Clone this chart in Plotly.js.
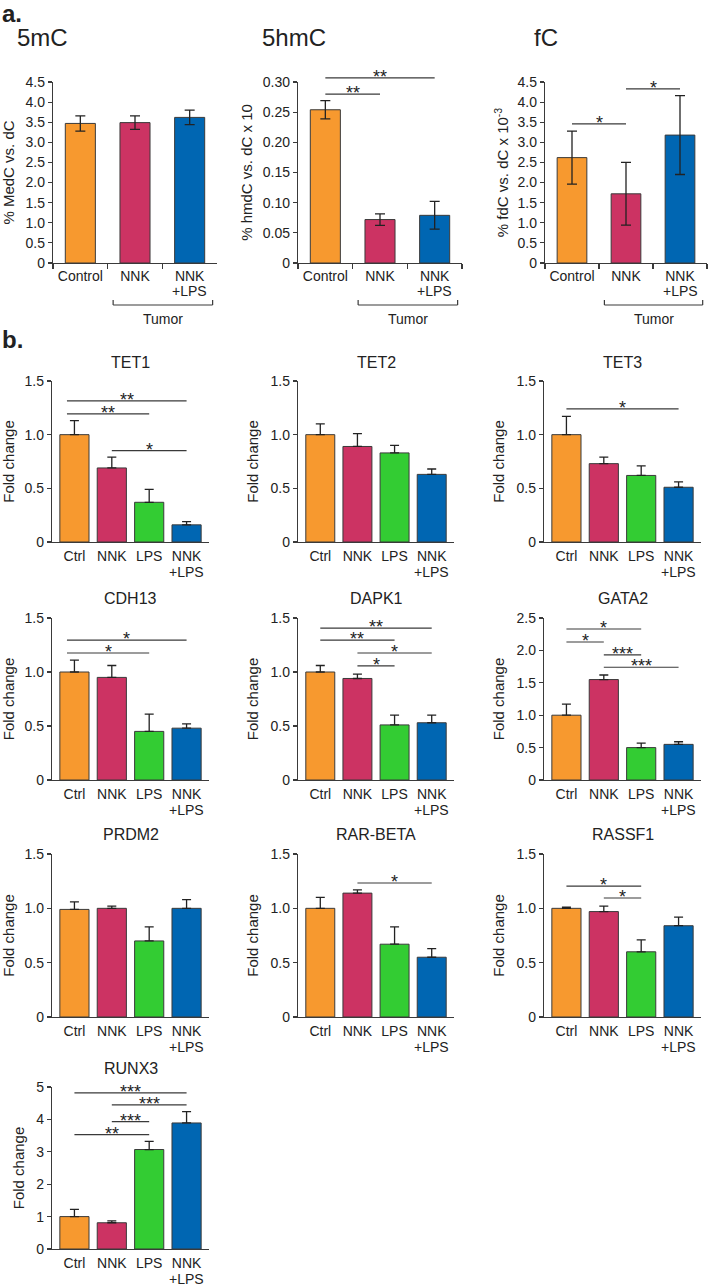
<!DOCTYPE html>
<html><head><meta charset="utf-8">
<script src="https://cdn.plot.ly/plotly-3.0.1.min.js"></script>
<style>html,body{margin:0;padding:0;background:#fff}</style>
</head><body><div id="chart" style="width:708px;height:1286px"></div>
<script>
// ---------- DATA ----------
const groupsA = ['Control', 'NNK', 'NNK+LPS'];
const tickA_line1 = ['Control', 'NNK', 'NNK'];
const tickA_line2 = ['', '', '+LPS'];
const groupsB = ['Ctrl', 'NNK', 'LPS', 'NNK+LPS'];
const tickB_line1 = ['Ctrl', 'NNK', 'LPS', 'NNK'];
const tickB_line2 = ['', '', '', '+LPS'];
const colorsA = ['#F7992F', '#CC3363', '#0066B2'];
const colorsB = ['#F7992F', '#CC3363', '#33CC33', '#0066B2'];

// panel a (mean, sem)
const mC_mean = [3.47, 3.49, 3.62];
const mC_sem = [0.19, 0.17, 0.18];
const hmC_mean = [0.254, 0.072, 0.079];
const hmC_sem = [0.015, 0.0095, 0.023];
const fC_mean = [2.62, 1.72, 3.18];
const fC_sem = [0.66, 0.78, 0.98];

// significance: [fromGroup, toGroup, yValue, label]
const mC_sig = [];
const hmC_sig = [[0, 1, 0.280, '**'], [0, 2, 0.307, '**']];
const fC_sig = [[0, 1, 3.46, '*'], [1, 2, 4.33, '*']];

// panel b (mean, upper sem)
const TET1_mean = [1.00, 0.69, 0.37, 0.16];
const TET1_sem = [0.13, 0.10, 0.12, 0.03];
const TET2_mean = [1.00, 0.89, 0.83, 0.63];
const TET2_sem = [0.10, 0.12, 0.07, 0.05];
const TET3_mean = [1.00, 0.73, 0.62, 0.51];
const TET3_sem = [0.17, 0.06, 0.09, 0.05];
const CDH13_mean = [1.00, 0.95, 0.45, 0.48];
const CDH13_sem = [0.11, 0.11, 0.16, 0.04];
const DAPK1_mean = [1.00, 0.94, 0.51, 0.53];
const DAPK1_sem = [0.06, 0.04, 0.09, 0.07];
const GATA2_mean = [1.00, 1.55, 0.50, 0.55];
const GATA2_sem = [0.17, 0.07, 0.07, 0.04];
const PRDM2_mean = [0.99, 1.00, 0.70, 1.00];
const PRDM2_sem = [0.07, 0.02, 0.13, 0.08];
const RARB_mean = [1.00, 1.14, 0.67, 0.55];
const RARB_sem = [0.10, 0.03, 0.16, 0.08];
const RASSF1_mean = [1.00, 0.97, 0.60, 0.84];
const RASSF1_sem = [0.01, 0.05, 0.11, 0.08];
const RUNX3_mean = [1.00, 0.81, 3.07, 3.89];
const RUNX3_sem = [0.22, 0.06, 0.25, 0.35];

const TET1_sig = [[-0.2, 3, 1.315, '**'], [-0.2, 2, 1.194, '**'], [1, 3, 0.852, '*']];
const TET2_sig = [];
const TET3_sig = [[0, 3, 1.24, '*']];
const CDH13_sig = [[-0.2, 3, 1.296, '*'], [-0.2, 2, 1.176, '*']];
const DAPK1_sig = [[0, 3, 1.407, '**'], [0, 2, 1.296, '**'], [1, 3, 1.176, '*'], [1, 2, 1.056, '*']];
const GATA2_sig = [[0, 2, 2.33, '*'], [0, 1, 2.13, '*'], [1, 2, 1.93, '***'], [1, 3, 1.74, '***']];
const PRDM2_sig = [];
const RARB_sig = [[1, 3, 1.233, '*']];
const RASSF1_sig = [[0, 2, 1.205, '*'], [1, 2, 1.095, '*']];
const RUNX3_sig = [[0, 3, 4.82, '***'], [1, 3, 4.45, '***'], [1, 2, 3.93, '***'], [0, 2, 3.53, '**']];

// tick labels
const ticks45 = [0, 0.5, 1, 1.5, 2, 2.5, 3, 3.5, 4, 4.5];
const ticks45_text = ['0', '0.5', '1.0', '1.5', '2.0', '2.5', '3.0', '3.5', '4.0', '4.5'];
const ticks03 = [0, 0.05, 0.10, 0.15, 0.20, 0.25, 0.30];
const ticks03_text = ['0', '0.05', '0.10', '0.15', '0.20', '0.25', '0.30'];
const ticks15 = [0, 0.5, 1, 1.5];
const ticks15_text = ['0', '0.5', '1.0', '1.5'];
const ticks25 = [0, 0.5, 1, 1.5, 2, 2.5];
const ticks25_text = ['0', '0.5', '1.0', '1.5', '2.0', '2.5'];
const ticks5 = [0, 1, 2, 3, 4, 5];
const ticks5_text = ['0', '1', '2', '3', '4', '5'];

// ---------- LAYOUT HELPERS ----------
const W = 708, H = 1286;
const FONT = '"Liberation Sans", Arial, Helvetica, sans-serif';
const TXT = '#222';
const LINE = '#3a3a3a';
const px = v => v / W;
const py = v => 1 - v / H;

const panelsA = [
  {title: '5mC', titleX: 15, ytitle: '% MedC vs. dC', mean: mC_mean, sem: mC_sem, ymax: 4.5, tv: ticks45, tt: ticks45_text, sig: mC_sig, box: [53, 217], standoff: 11},
  {title: '5hmC', titleX: 260, ytitle: '% hmdC vs. dC x 10', mean: hmC_mean, sem: hmC_sem, ymax: 0.30, tv: ticks03, tt: ticks03_text, sig: hmC_sig, box: [298, 462], standoff: 6},
  {title: 'fC', titleX: 532, ytitle: '% fdC vs. dC x 10<sup>-3</sup>', mean: fC_mean, sem: fC_sem, ymax: 4.5, tv: ticks45, tt: ticks45_text, sig: fC_sig, box: [545, 707], standoff: 5}
];
const aTop = 82, aBot = 263;

const panelsB = [
  {title: 'TET1', mean: TET1_mean, sem: TET1_sem, sig: TET1_sig, ymax: 1.5, tv: ticks15, tt: ticks15_text},
  {title: 'TET2', mean: TET2_mean, sem: TET2_sem, sig: TET2_sig, ymax: 1.5, tv: ticks15, tt: ticks15_text},
  {title: 'TET3', mean: TET3_mean, sem: TET3_sem, sig: TET3_sig, ymax: 1.5, tv: ticks15, tt: ticks15_text},
  {title: 'CDH13', mean: CDH13_mean, sem: CDH13_sem, sig: CDH13_sig, ymax: 1.5, tv: ticks15, tt: ticks15_text},
  {title: 'DAPK1', mean: DAPK1_mean, sem: DAPK1_sem, sig: DAPK1_sig, ymax: 1.5, tv: ticks15, tt: ticks15_text},
  {title: 'GATA2', mean: GATA2_mean, sem: GATA2_sem, sig: GATA2_sig, ymax: 2.5, tv: ticks25, tt: ticks25_text},
  {title: 'PRDM2', mean: PRDM2_mean, sem: PRDM2_sem, sig: PRDM2_sig, ymax: 1.5, tv: ticks15, tt: ticks15_text},
  {title: 'RAR-BETA', mean: RARB_mean, sem: RARB_sem, sig: RARB_sig, ymax: 1.5, tv: ticks15, tt: ticks15_text},
  {title: 'RASSF1', mean: RASSF1_mean, sem: RASSF1_sem, sig: RASSF1_sig, ymax: 1.5, tv: ticks15, tt: ticks15_text},
  {title: 'RUNX3', mean: RUNX3_mean, sem: RUNX3_sem, sig: RUNX3_sig, ymax: 5, tv: ticks5, tt: ticks5_text}
];
const bCols = [[52, 209], [298, 454], [544, 701]];
const bRows = [[381, 542], [618, 780], [854, 1017], [1087, 1249]];

const traces = [];
const layout = {
  width: W, height: H,
  margin: {l: 0, r: 0, t: 0, b: 0},
  paper_bgcolor: '#fff', plot_bgcolor: '#fff',
  showlegend: false,
  font: {family: FONT, size: 14, color: TXT},
  shapes: [], annotations: []
};

function addAxes(i, xbox, ybox, cats, line1, xr, ymax, tv, tt, ytitle, standoff, isA) {
  const sfx = (i === 1 ? '' : i);
  const xid = 'x' + sfx, yid = 'y' + sfx;
  layout['xaxis' + sfx] = {
    domain: [px(xbox[0]), px(xbox[1])], anchor: yid,
    type: 'category', range: xr, fixedrange: true,
    showline: true, linecolor: LINE, linewidth: 1.2, showgrid: false, zeroline: false,
    ticks: 'outside', ticklen: isA ? 5 : 1, tickwidth: 1.2,
    tickcolor: isA ? LINE : 'rgba(0,0,0,0)',
    tickson: isA ? 'boundaries' : 'labels',
    tickmode: 'array', tickvals: cats, ticktext: line1, tickangle: 0,
    tickfont: {family: FONT, size: 14, color: TXT},
    automargin: false
  };
  layout['yaxis' + sfx] = {
    domain: [py(ybox[1]), py(ybox[0])], anchor: xid,
    range: [0, ymax], fixedrange: true,
    showline: true, linecolor: LINE, linewidth: 1.2, showgrid: false, zeroline: false,
    ticks: 'outside', ticklen: 4, tickwidth: 1.2, tickcolor: LINE,
    tickmode: 'array', tickvals: tv, ticktext: tt,
    tickfont: {family: FONT, size: 14, color: TXT},
    title: {text: ytitle, font: {family: FONT, size: 15, color: TXT}, standoff: standoff},
    automargin: false
  };
  return {xid, yid, sfx};
}

function addLine2(sfx, cats, line2, shift) {
  cats.forEach((c, j) => {
    if (!line2[j]) return;
    layout.annotations.push({xref: 'x' + sfx, yref: 'y' + sfx + ' domain', x: c, y: 0,
      xanchor: 'center', yanchor: 'middle', yshift: shift, text: line2[j], showarrow: false,
      font: {family: FONT, size: 14, color: TXT}});
  });
}

function addSig(sfx, sig, xr, ymax) {
  const toDom = v => (v - xr[0]) / (xr[1] - xr[0]);
  sig.forEach(s => {
    const x0 = toDom(s[0]), x1 = toDom(s[1]), yd = s[2] / ymax;
    layout.shapes.push({type: 'line', xref: 'x' + sfx + ' domain', yref: 'y' + sfx + ' domain',
      x0: x0, x1: x1, y0: yd, y1: yd, line: {color: LINE, width: 1.2}});
    layout.annotations.push({xref: 'x' + sfx + ' domain', yref: 'y' + sfx + ' domain',
      x: (x0 + x1) / 2, y: yd, xanchor: 'center', yanchor: 'bottom', yshift: -11,
      text: s[3], showarrow: false, font: {family: FONT, size: 18, color: TXT}});
  });
}

let idx = 1;
// Panel a
const xrA = [-0.5, 2.5];
panelsA.forEach(p => {
  const ids = addAxes(idx, p.box, [aTop, aBot], groupsA, tickA_line1, xrA, p.ymax, p.tv, p.tt, p.ytitle, p.standoff, true);
  traces.push({
    type: 'bar', x: groupsA, y: p.mean, xaxis: ids.xid, yaxis: ids.yid, width: 0.55,
    marker: {color: colorsA, line: {color: LINE, width: 1}},
    error_y: {type: 'data', array: p.sem, visible: true, color: '#222', thickness: 1.3, width: 5},
    hoverinfo: 'none'
  });
  addLine2(ids.sfx, groupsA, tickA_line2, -28);
  addSig(ids.sfx, p.sig, xrA, p.ymax);
  layout.annotations.push({xref: 'paper', yref: 'paper', x: px(p.titleX), y: py(38), xanchor: 'left', yanchor: 'middle',
    text: p.title, showarrow: false, font: {family: FONT, size: 24, color: TXT}});
  // Tumor bracket under NNK and NNK+LPS
  const toDom = v => (v - xrA[0]) / (xrA[1] - xrA[0]);
  const bx0 = toDom(0.6), bx1 = toDom(2.42);
  const xr = 'x' + ids.sfx + ' domain';
  layout.shapes.push({type: 'line', xref: xr, yref: 'paper', x0: bx0, x1: bx1, y0: py(305), y1: py(305), line: {color: LINE, width: 1.2}});
  layout.shapes.push({type: 'line', xref: xr, yref: 'paper', x0: bx0, x1: bx0, y0: py(305), y1: py(300), line: {color: LINE, width: 1.2}});
  layout.shapes.push({type: 'line', xref: xr, yref: 'paper', x0: bx1, x1: bx1, y0: py(305), y1: py(300), line: {color: LINE, width: 1.2}});
  layout.annotations.push({xref: xr, yref: 'paper', x: (bx0 + bx1) / 2, y: py(319), xanchor: 'center', yanchor: 'middle',
    text: 'Tumor', showarrow: false, font: {family: FONT, size: 14, color: TXT}});
  idx++;
});

// Panel b
const xrB = [-0.6, 3.6];
panelsB.forEach((p, k) => {
  const col = bCols[k % 3], row = bRows[Math.floor(k / 3)];
  const ids = addAxes(idx, col, row, groupsB, tickB_line1, xrB, p.ymax, p.tv, p.tt, 'Fold change', 8, false);
  const zeros = p.mean.map(() => 0);
  traces.push({
    type: 'bar', x: groupsB, y: p.mean, xaxis: ids.xid, yaxis: ids.yid, width: 0.78,
    marker: {color: colorsB, line: {color: LINE, width: 1}},
    error_y: {type: 'data', symmetric: false, array: p.sem, arrayminus: zeros, visible: true, color: '#222', thickness: 1.3, width: 4.5},
    hoverinfo: 'none'
  });
  addLine2(ids.sfx, groupsB, tickB_line2, -30);
  addSig(ids.sfx, p.sig, xrB, p.ymax);
  layout.annotations.push({xref: 'x' + ids.sfx + ' domain', yref: 'y' + ids.sfx + ' domain', x: 0.5, y: 1, xanchor: 'center', yanchor: 'middle', yshift: 19,
    text: p.title, showarrow: false, font: {family: FONT, size: 16, color: TXT}});
  idx++;
});

// panel letters
layout.annotations.push({xref: 'paper', yref: 'paper', x: 0, y: py(13), xanchor: 'left', yanchor: 'middle',
  text: '<b>a.</b>', showarrow: false, font: {family: FONT, size: 24, color: TXT}});
layout.annotations.push({xref: 'paper', yref: 'paper', x: 0, y: py(340), xanchor: 'left', yanchor: 'middle',
  text: '<b>b.</b>', showarrow: false, font: {family: FONT, size: 24, color: TXT}});

Plotly.newPlot('chart', traces, layout, {staticPlot: true, displayModeBar: false});
</script></body></html>
